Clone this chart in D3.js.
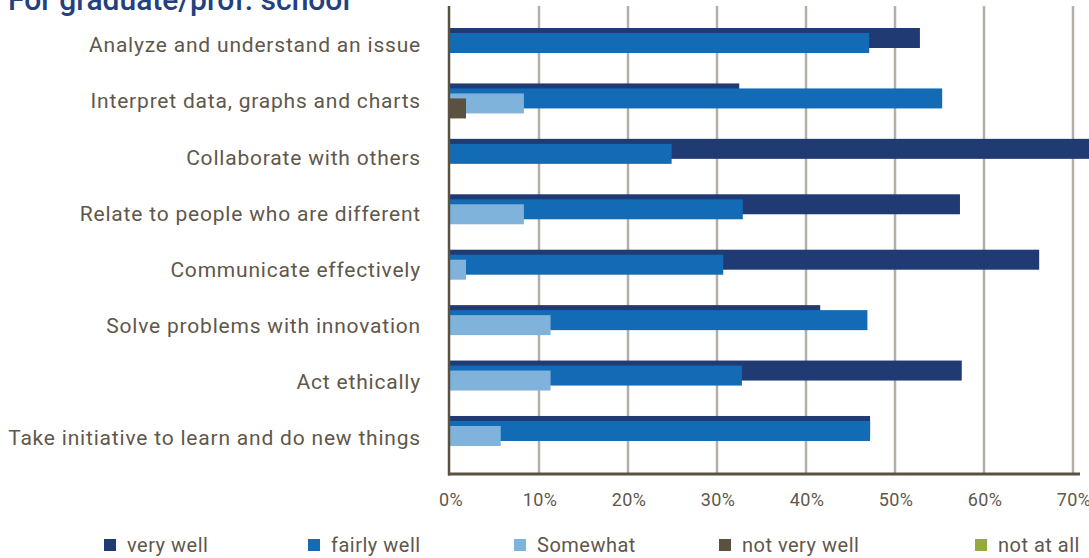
<!DOCTYPE html>
<html>
<head>
<meta charset="utf-8">
<script src="https://cdn.jsdelivr.net/npm/d3@7"></script>
<style>
  body { margin: 0; background: #fff; }
  svg { display: block; }
  text { font-family: Roboto, "Noto Sans", sans-serif; }
</style>
</head>
<body>
<svg id="chart" width="1089" height="558"></svg>
<script>
// Survey: how well the program prepared students for graduate/professional school
const categories = [
  "Analyze and understand an issue",
  "Interpret data, graphs and charts",
  "Collaborate with others",
  "Relate to people who are different",
  "Communicate effectively",
  "Solve problems with innovation",
  "Act ethically",
  "Take initiative to learn and do new things"
];
const seriesNames = ["very well", "fairly well", "Somewhat", "not very well", "not at all"];
const veryWell    = [52.8, 32.5, 73.0, 57.3, 66.2, 41.6, 57.5, 47.2];
const fairlyWell  = [47.1, 55.3, 24.9, 32.9, 30.7, 46.9, 32.8, 47.2];
const somewhat    = [0.0, 8.3, 0.0, 8.3, 1.8, 11.3, 11.3, 5.7];
const notVeryWell = [0.0, 1.8, 0.0, 0.0, 0.0, 0.0, 0.0, 0.0];
const notAtAll    = [0.0, 0.0, 0.0, 0.0, 0.0, 0.0, 0.0, 0.0];
const tickValues  = [0, 10, 20, 30, 40, 50, 60, 70];
const tickLabels  = ["0%", "10%", "20%", "30%", "40%", "50%", "60%", "70%"];
const seriesColors = ["#203a74", "#136bb5", "#80b3dc", "#5a5140", "#95aa3a"];

const seriesValues = [veryWell, fairlyWell, somewhat, notVeryWell, notAtAll];

const svg = d3.select("#chart");
const textColor = "#5f574b";

// Title (sits partly above the top edge)
svg.append("text")
  .attr("x", 8).attr("y", 10)
  .attr("fill", "#23407f")
  .attr("font-size", 30)
  .attr("font-weight", 500)
  .text("For graduate/prof. school");

const plotTop = 6, plotBottom = 474;
const x = d3.scaleLinear().domain([0, 70]).range([450, 1073]);
const y = d3.scaleBand().domain(categories)
  .range([20.3, 463.7]).paddingInner(0.278).paddingOuter(0.139);
// category labels sit on their own, slightly wider spacing
const yLabel = d3.scalePoint().domain(categories).range([45, 438]);
const offset = d3.scalePoint().domain(seriesNames).range([0, 20]);
const barH = 20;

// Vertical gridlines
svg.append("g").selectAll("line")
  .data(tickValues.filter(v => v > 0))
  .join("line")
  .attr("x1", d => x(d)).attr("x2", d => x(d))
  .attr("y1", plotTop).attr("y2", plotBottom)
  .attr("stroke", "#b4afa7").attr("stroke-width", 2.5);

// Bars: each series drawn over the previous one, stepping down
const bars = svg.append("g");
seriesNames.forEach((name, si) => {
  bars.append("g").attr("fill", seriesColors[si])
    .selectAll("rect")
    .data(categories.map((c, i) => ({ c, v: seriesValues[si][i] })).filter(d => d.v > 0))
    .join("rect")
    .attr("x", x(0))
    .attr("y", d => y(d.c) + offset(name))
    .attr("width", d => x(d.v) - x(0))
    .attr("height", barH);
});

// Axis lines
svg.append("line")
  .attr("x1", 449).attr("x2", 449).attr("y1", plotTop).attr("y2", plotBottom + 1.5)
  .attr("stroke", "#5a5140").attr("stroke-width", 2.5);
svg.append("line")
  .attr("x1", 448).attr("x2", 1080).attr("y1", plotBottom).attr("y2", plotBottom)
  .attr("stroke", "#5a5140").attr("stroke-width", 3);

// Category labels
svg.append("g").selectAll("text")
  .data(categories)
  .join("text")
  .attr("x", 421)
  .attr("y", d => yLabel(d))
  .attr("dy", "0.35em")
  .attr("text-anchor", "end")
  .attr("fill", textColor)
  .attr("font-size", 21)
  .attr("letter-spacing", 0.8)
  .text(d => d);

// Tick labels
svg.append("g").selectAll("text")
  .data(tickValues)
  .join("text")
  .attr("x", d => x(d) + 1)
  .attr("y", 500)
  .attr("dy", "0.35em")
  .attr("text-anchor", "middle")
  .attr("fill", textColor)
  .attr("font-size", 18)
  .attr("letter-spacing", 0.3)
  .text((d, i) => tickLabels[i]);

// Legend
const legendSlots = [104, 308, 514, 719, 975];
const lg = svg.append("g").selectAll("g")
  .data(seriesNames)
  .join("g")
  .attr("transform", (d, i) => `translate(${legendSlots[i]},545)`);
lg.append("rect")
  .attr("x", 0).attr("y", -6).attr("width", 12).attr("height", 12)
  .attr("fill", (d, i) => seriesColors[i]);
lg.append("text")
  .attr("x", 23).attr("y", 0).attr("dy", "0.35em")
  .attr("fill", textColor)
  .attr("font-size", 20)
  .attr("letter-spacing", 0.5)
  .text(d => d);
</script>
</body>
</html>
